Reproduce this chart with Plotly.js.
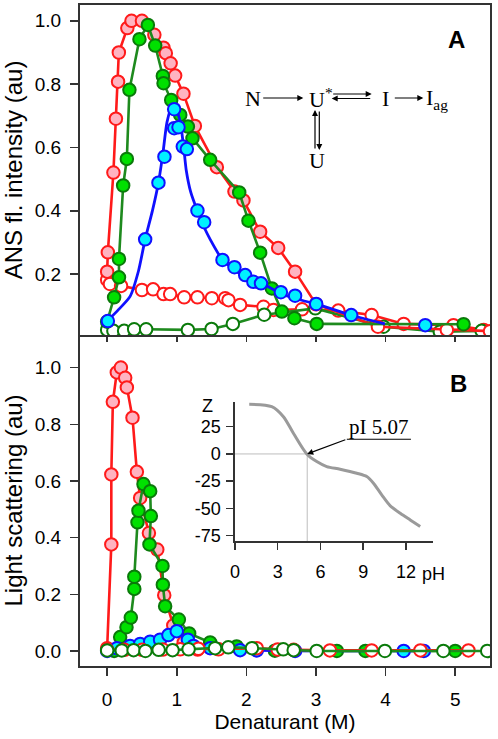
<!DOCTYPE html>
<html>
<head>
<meta charset="utf-8">
<script src="https://cdn.plot.ly/plotly-3.0.1.min.js"></script>
<style>html,body{margin:0;padding:0;background:#fff;}#chart{width:498px;height:739px;}</style>
</head>
<body>
<div id="chart"></div>
<script>
// ---------- Panel A : ANS fluorescence ----------
const pinkAx = [0.0, 0.01, 0.09, 0.126, 0.157, 0.168, 0.29, 0.35, 0.50, 0.678, 0.809, 0.843, 0.912, 0.977, 1.096, 1.26, 1.576, 1.829, 1.958, 2.198, 2.457, 2.70, 3.0, 3.89, 4.88, 5.5];
const pinkAy = [0.208, 0.269, 0.521, 0.691, 0.808, 0.900, 0.977, 1.0, 1.0, 0.956, 0.915, 0.898, 0.866, 0.827, 0.770, 0.668, 0.538, 0.461, 0.433, 0.334, 0.283, 0.208, 0.105, 0.034, 0.024, 0.02];

const redOpenAx = [0.0, 0.04, 0.2, 0.5, 0.66, 0.81, 0.905, 1.106, 1.297, 1.504, 1.695, 1.743, 1.91, 2.246, 2.39, 2.80, 3.32, 3.80, 4.26, 4.975, 5.41];
const redOpenAy = [0.182, 0.169, 0.163, 0.150, 0.152, 0.137, 0.137, 0.127, 0.127, 0.124, 0.124, 0.118, 0.103, 0.097, 0.087, 0.089, 0.085, 0.071, 0.043, 0.039, 0.024];

const greenAx = [0.0, 0.10, 0.17, 0.17, 0.23, 0.283, 0.32, 0.464, 0.585, 0.69, 0.80, 0.81, 0.92, 1.05, 1.16, 1.226, 1.48, 1.897, 2.03, 2.198, 2.366, 2.51, 2.69, 3.01, 5.12];
const greenAy = [0.05, 0.127, 0.19, 0.248, 0.48, 0.564, 0.782, 0.942, 0.987, 0.922, 0.826, 0.803, 0.750, 0.703, 0.666, 0.629, 0.561, 0.458, 0.369, 0.268, 0.155, 0.082, 0.061, 0.043, 0.042];

const greenOpenAx = [0.0, 0.09, 0.244, 0.388, 0.56, 1.16, 1.50, 1.806, 2.256, 2.99, 3.97, 4.78, 5.38];
const greenOpenAy = [0.024, 0.021, 0.021, 0.026, 0.026, 0.024, 0.027, 0.043, 0.072, 0.092, 0.034, 0.018, 0.021];

const cyanAx = [0.01, 0.546, 0.737, 0.823, 0.963, 0.963, 1.025, 1.087, 1.145, 1.297, 1.394, 1.657, 1.829, 1.983, 2.10, 2.21, 2.496, 2.70, 3.003, 3.506, 4.57];
const cyanAy = [0.052, 0.31, 0.489, 0.571, 0.721, 0.661, 0.664, 0.603, 0.595, 0.401, 0.364, 0.245, 0.222, 0.197, 0.176, 0.171, 0.143, 0.132, 0.106, 0.071, 0.039];

const blueFitX = [0.0, 0.15, 0.33, 0.45, 0.546, 0.65, 0.737, 0.80, 0.86, 0.93, 1.0, 1.05, 1.10, 1.135, 1.20, 1.297, 1.40, 1.48, 1.657, 1.85, 2.0, 2.2, 2.486, 2.75, 3.0, 3.5, 3.99];
const blueFitY = [0.052, 0.085, 0.13, 0.21, 0.31, 0.40, 0.489, 0.58, 0.68, 0.728, 0.715, 0.68, 0.60, 0.53, 0.46, 0.40, 0.345, 0.31, 0.245, 0.21, 0.19, 0.174, 0.14, 0.12, 0.106, 0.071, 0.043];

// ---------- Panel B : light scattering ----------
const pinkBx = [0.0, 0.06, 0.06, 0.082, 0.139, 0.197, 0.259, 0.283, 0.364, 0.427, 0.474, 0.60, 0.72, 0.82, 0.95, 1.1, 1.3];
const pinkBy = [0.01, 0.376, 0.623, 0.879, 0.983, 1.0, 0.964, 0.93, 0.823, 0.632, 0.54, 0.416, 0.358, 0.197, 0.09, 0.03, 0.005];

const greenBx = [0.10, 0.187, 0.278, 0.34, 0.39, 0.39, 0.436, 0.45, 0.522, 0.618, 0.628, 0.608, 0.795, 0.80, 0.833, 1.03, 1.178, 1.48, 1.86, 2.41, 3.30, 3.71, 5.0];
const greenBy = [0.0, 0.049, 0.084, 0.118, 0.219, 0.262, 0.454, 0.495, 0.589, 0.564, 0.476, 0.376, 0.30, 0.234, 0.158, 0.111, 0.062, 0.03, 0.016, 0.001, 0.0, 0.0, 0.0];

const cyanBx = [0.0, 0.14, 0.33, 0.474, 0.618, 0.76, 0.88, 1.0, 1.16, 1.24, 1.48, 1.91, 2.15, 2.70, 4.26, 4.55];
const cyanBy = [0.0, 0.01, 0.018, 0.025, 0.033, 0.04, 0.056, 0.07, 0.04, 0.018, 0.01, 0.003, 0.002, 0.0, 0.0, 0.0];

const redOpenBx = [0.0, 0.25, 0.5, 0.8, 1.05, 1.31, 1.6, 2.15, 2.45, 2.68, 3.2, 3.8, 4.5, 5.19];
const redOpenBy = [0.005, 0.004, 0.004, 0.005, 0.006, 0.008, 0.006, 0.01, 0.005, 0.004, 0.002, 0.002, 0.002, 0.002];

const greenOpenBx = [0.0, 0.21, 0.38, 0.55, 0.74, 0.94, 1.17, 1.55, 1.74, 2.08, 2.53, 2.68, 3.01, 3.99, 4.83, 5.46];
const greenOpenBy = [0.002, 0.002, 0.003, 0.0, 0.004, 0.003, 0.006, 0.01, 0.013, 0.01, 0.006, 0.003, 0.0, 0.0, 0.0, 0.0];

// ---------- Inset : net charge vs pH ----------
const insetPH = [1.0, 2.58, 3.4, 4.1, 5.04, 5.74, 6.44, 7.38, 8.55, 9.25, 9.72, 10.3, 10.9, 11.6, 12.3, 13.0];
const insetZ  = [45.6, 43.4, 34.2, 19, 0, -7, -11.6, -14, -17.7, -20.8, -26.9, -37.6, -47.7, -54.4, -60.6, -66.7];
const pI = 5.07;

const xTicks = [0, 1, 2, 3, 4, 5];
const yTicksB = [0, 0.2, 0.4, 0.6, 0.8, 1.0];
const yTicksA = [0.2, 0.4, 0.6, 0.8, 1.0];
const insetXTicks = [0, 3, 6, 9, 12];
const insetYTicks = [-75, -50, -25, 0, 25];

// ---------- styles ----------
const RED = '#ff1a1a', PINK = '#ffb3c1';
const GREEN_LINE = '#1e8a1e', GREEN_FILL = '#00e000', GREEN_EDGE = '#0a7a0a';
const BLUE = '#1010ff', CYAN = '#00f0ff';
const MS = 12.5;

function tr(x, y, xa, ya, lineColor, fill, edge, mode, extra) {
  return Object.assign({
    x: x, y: y, xaxis: xa, yaxis: ya, type: 'scatter', mode: mode || 'lines+markers',
    line: {color: lineColor, width: 2.6},
    marker: {size: MS, color: fill, line: {color: edge, width: 2}},
    hoverinfo: 'skip'
  }, extra || {});
}

const pinkTailFill = pinkAx.map(v => v > 2.8 ? '#ffffff' : PINK);

const data = [
  // panel A
  tr(redOpenAx, redOpenAy, 'x2', 'y2', RED, '#ffffff', RED),
  tr(greenOpenAx, greenOpenAy, 'x2', 'y2', GREEN_LINE, '#ffffff', GREEN_EDGE),
  tr(pinkAx, pinkAy, 'x2', 'y2', RED, pinkTailFill, RED),
  tr(greenAx, greenAy, 'x2', 'y2', GREEN_LINE, GREEN_FILL, GREEN_EDGE),
  tr(blueFitX, blueFitY, 'x2', 'y2', BLUE, BLUE, BLUE, 'lines', {line: {color: BLUE, width: 2.8, shape: 'spline', smoothing: 0.6}}),
  tr(cyanAx, cyanAy, 'x2', 'y2', BLUE, CYAN, BLUE, 'markers'),
  // panel B
  tr(pinkBx, pinkBy, 'x', 'y', RED, PINK, RED),
  tr(greenBx, greenBy, 'x', 'y', GREEN_LINE, GREEN_FILL, GREEN_EDGE),
  tr(cyanBx, cyanBy, 'x', 'y', BLUE, CYAN, BLUE),
  tr(redOpenBx, redOpenBy, 'x', 'y', RED, '#ffffff', RED),
  tr(greenOpenBx, greenOpenBy, 'x', 'y', GREEN_LINE, '#ffffff', GREEN_EDGE),
  // inset
  {x: insetPH, y: insetZ, xaxis: 'x3', yaxis: 'y3', type: 'scatter', mode: 'lines',
   line: {color: '#9a9a9a', width: 3, shape: 'spline', smoothing: 0.8}, hoverinfo: 'skip'}
];

const AX = '#333333';
const FONT = 'Liberation Sans, Arial, Helvetica, sans-serif';
const SERIF = 'Liberation Serif, Times New Roman, serif';
const fmt = v => v.toFixed(1);
const splitY = 0.5008;

const baseAxis = {
  showline: true, linecolor: AX, linewidth: 2, showgrid: false, zeroline: false,
  ticks: 'outside', tickcolor: AX, tickwidth: 1.5, ticklen: 8,
  tickfont: {family: FONT, size: 19, color: '#000'}
};

// paper helpers for decorative scheme (pixel -> paper)
const L = 80, T = 5, W = 410, H = 661;
const px = X => (X - L) / W;
const py = Y => (T + H - Y) / H;

function arrow(x0, y0, x1, y1) {
  return {xref: 'paper', yref: 'paper', x: px(x1), y: py(y1), ax: x0 - x1, ay: y0 - y1,
          axref: 'pixel', ayref: 'pixel', showarrow: true, arrowhead: 2, arrowsize: 1,
          arrowwidth: 1.2, arrowcolor: '#000', text: '', standoff: 0, startstandoff: 0};
}
function label(X, Y, text, size, fam, anchor, extra) {
  return Object.assign({xref: 'paper', yref: 'paper', x: px(X), y: py(Y), text: text, showarrow: false,
          xanchor: anchor || 'center', yanchor: 'middle', font: {family: fam, size: size, color: '#000'}}, extra || {});
}

const annotations = [
  label(456, 40, '<b>A</b>', 24, FONT),
  label(458, 383, '<b>B</b>', 24, FONT),
  // reaction scheme
  label(252.5, 98, 'N', 22, SERIF),
  label(307, 98, 'U<sup>*</sup>', 22, SERIF, 'left'),
  label(385, 98, 'I', 22, SERIF),
  label(424, 99, 'I<sub>ag</sub>', 22, SERIF, 'left'),
  label(316.5, 161, 'U', 22, SERIF),
  arrow(261.7, 98, 303.3, 98),
  arrow(331.7, 94, 371.7, 94),
  arrow(371.7, 98.5, 331.7, 98.5),
  arrow(393.3, 98, 423.3, 98),
  arrow(315, 150, 315, 110),
  arrow(319.3, 110, 319.3, 150),
  // inset labels
  label(207, 406, 'Z', 18, FONT),
  label(433, 574, 'pH', 18, FONT),
  {xref: 'x3', yref: 'y3', x: 10.1, y: 25, text: 'pI 5.07', showarrow: false,
   font: {family: SERIF, size: 21, color: '#000'}, xanchor: 'center', yanchor: 'middle'},
  {xref: 'x3', yref: 'y3', x: pI, y: 0, ax: 7.85, ay: 13.5, axref: 'x3', ayref: 'y3',
   showarrow: true, arrowhead: 2, arrowsize: 1, arrowwidth: 1.2, arrowcolor: '#000', text: '', standoff: 0}
];

const shapes = [
  {type: 'line', xref: 'x3', yref: 'y3', x0: 0, x1: pI, y0: 0, y1: 0, line: {color: '#bdbdbd', width: 1}, layer: 'below'},
  {type: 'line', xref: 'x3', yref: 'y3', x0: pI, x1: pI, y0: 0, y1: -80, line: {color: '#bdbdbd', width: 1}, layer: 'below'},
  {type: 'line', xref: 'x3', yref: 'y3', x0: 7.85, x1: 12.35, y0: 13.5, y1: 13.5, line: {color: '#000', width: 1.2}}
];

const layout = {
  width: 498, height: 739,
  margin: {l: L, r: 8, t: T, b: 73},
  paper_bgcolor: '#fff', plot_bgcolor: 'rgba(0,0,0,0)',
  font: {family: FONT, size: 19, color: '#000'},
  showlegend: false,
  xaxis: Object.assign({}, baseAxis, {domain: [0, 1], anchor: 'y', range: [-0.39, 5.5], tickvals: xTicks,
    ticktext: xTicks.map(String), ticklabelstandoff: 7,
    title: {text: 'Denaturant (M)', font: {family: FONT, size: 21, color: '#000'}, standoff: 6}}),
  yaxis: Object.assign({}, baseAxis, {domain: [0, splitY], anchor: 'x', range: [-0.053, 1.115], tickvals: yTicksB,
    ticktext: yTicksB.map(fmt), mirror: true, ticklabelstandoff: 5,
    title: {text: 'Light scattering (au)', font: {family: FONT, size: 24, color: '#000'}, standoff: 5}}),
  xaxis2: Object.assign({}, baseAxis, {domain: [0, 1], anchor: 'y2', range: [-0.39, 5.5], tickvals: xTicks,
    showticklabels: false, ticklen: 5, mirror: true}),
  yaxis2: Object.assign({}, baseAxis, {domain: [splitY, 1], anchor: 'x2', range: [0.008, 1.05], tickvals: yTicksA,
    ticktext: yTicksA.map(fmt), mirror: true, ticklabelstandoff: 5,
    title: {text: 'ANS fl. intensity (au)', font: {family: FONT, size: 24, color: '#000'}, standoff: 5}}),
  xaxis3: Object.assign({}, baseAxis, {domain: [0.378, 0.861], anchor: 'y3', range: [0, 13.9], tickvals: insetXTicks,
    ticktext: insetXTicks.map(String), linewidth: 1.5, ticklen: 7, ticklabelstandoff: 7,
    tickfont: {family: FONT, size: 18, color: '#000'}}),
  yaxis3: Object.assign({}, baseAxis, {domain: [0.189, 0.3999], anchor: 'x3', range: [-80, 48], tickvals: insetYTicks,
    ticktext: insetYTicks.map(String), linewidth: 1.5, ticklen: 7, ticklabelstandoff: 2,
    tickfont: {family: FONT, size: 18, color: '#000'}}),
  annotations: annotations,
  shapes: shapes
};

Plotly.newPlot('chart', data, layout, {staticPlot: true, displayModeBar: false});
</script>
</body>
</html>
